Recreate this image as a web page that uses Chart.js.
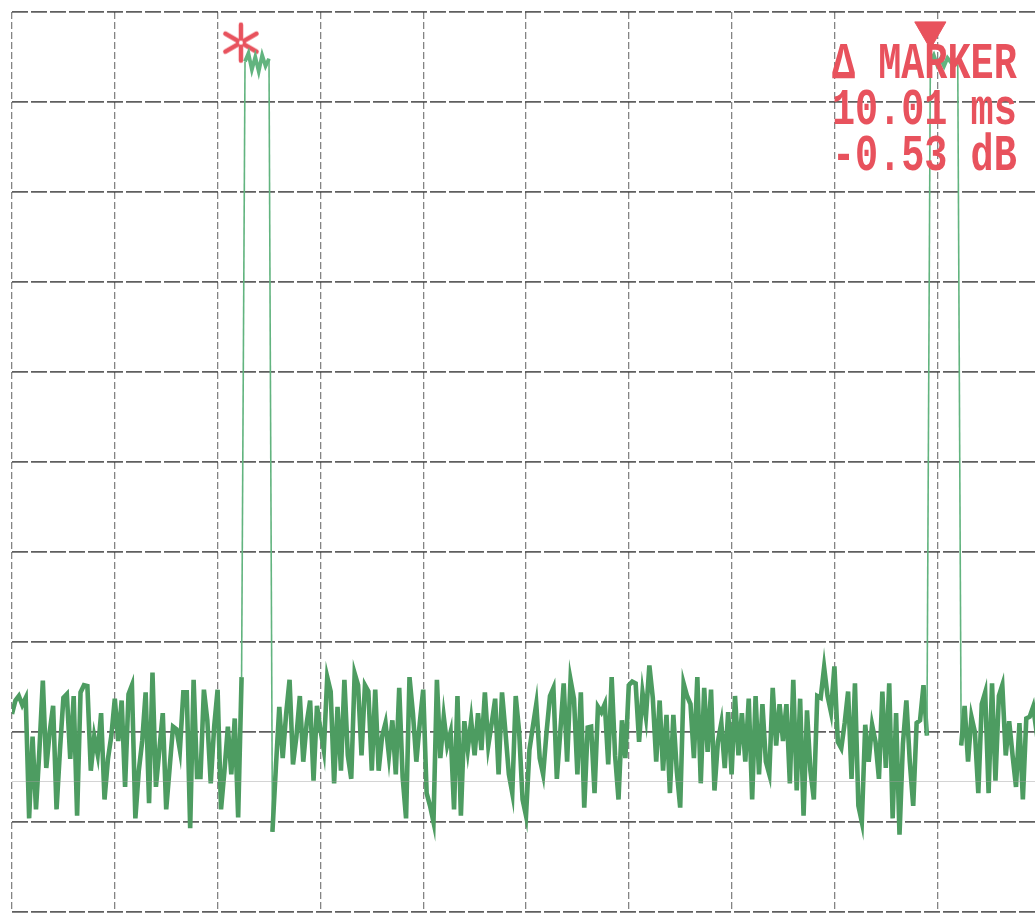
<!DOCTYPE html>
<html>
<head>
<meta charset="utf-8">
<script src="https://cdn.jsdelivr.net/npm/chart.js@4.4.1/dist/chart.umd.min.js"></script>
<style>
  html, body { margin: 0; padding: 0; background: #fff; overflow: hidden; }
  .wrap { position: relative; width: 1045px; height: 914px; }
  .readout {
    position: absolute; left: 832px; top: 42px;
    font-family: "Liberation Mono", "DejaVu Sans Mono", monospace;
    font-size: 52px; line-height: 46px; font-weight: bold;
    color: #e8525d; white-space: pre;
    transform: scaleX(0.74); transform-origin: left top;
  }
</style>
</head>
<body>
<div class="wrap">
  <canvas id="myChart"></canvas>
  <div class="readout">Δ MARKER
10.01 ms
-0.53 dB</div>
</div>
<script>
// sweep settings (ms, dB)
var spanMs = 15;
var refLevel = 0;
var bottomLevel = -100;

// trace, one value per sweep point (dB)
var levels = [
  -78.0, -76.5, -76.0, -77.0, -76.2, -89.6, -80.5, -88.6, -82.0, -74.3,
  -84.0, -80.0, -77.1, -88.6, -82.0, -76.2, -75.8, -83.0, -76.0, -89.3,
  -75.6, -74.8, -74.9, -84.3, -80.5, -82.5, -77.9, -87.5, -83.0, -80.4,
  -76.3, -81.0, -76.5, -86.1, -75.8, -74.8, -89.6, -84.3, -81.0, -75.6,
  -87.9, -73.4, -86.1, -82.0, -77.9, -88.6, -84.0, -79.4, -79.7, -82.0,
  -75.6, -75.6, -90.7, -74.2, -85.0, -85.0, -75.3, -78.7, -85.7, -79.4,
  -75.3, -88.6, -84.3, -79.4, -84.7, -78.5, -89.5, -73.9, -5.5, -4.6,
  -6.4, -5.0, -6.6, -4.8, -6.0, -5.2, -91.1, -84.0, -77.2, -82.9,
  -78.0, -74.2, -83.6, -80.5, -76.0, -83.3, -79.0, -76.5, -85.4, -77.1,
  -79.7, -82.0, -73.9, -75.5, -85.7, -77.2, -84.3, -74.2, -82.6, -85.2,
  -73.5, -74.8, -82.6, -74.8, -75.5, -84.3, -75.3, -84.3, -80.5, -79.0,
  -82.6, -78.7, -84.7, -75.1, -85.0, -89.6, -73.9, -77.9, -83.3, -79.0,
  -75.3, -86.8, -88.2, -90.0, -74.2, -82.9, -78.3, -81.5, -80.0, -88.6,
  -76.0, -89.3, -78.8, -82.0, -78.7, -82.6, -77.9, -82.0, -75.6, -81.5,
  -79.0, -76.3, -84.7, -75.6, -80.0, -84.7, -86.8, -76.0, -80.0, -87.5,
  -89.3, -82.0, -79.4, -76.9, -82.9, -84.7, -80.0, -76.0, -75.1, -85.2,
  -80.0, -74.6, -83.3, -74.2, -76.3, -84.7, -75.6, -88.4, -79.5, -79.4,
  -86.8, -77.2, -77.8, -76.9, -83.6, -73.9, -82.6, -87.5, -78.7, -82.9,
  -74.8, -74.4, -74.6, -81.1, -75.6, -78.3, -72.6, -76.2, -83.3, -76.5,
  -84.3, -78.1, -86.8, -78.1, -84.3, -88.4, -74.6, -76.0, -76.9, -82.9,
  -73.9, -85.7, -75.1, -82.2, -75.3, -86.5, -81.1, -79.0, -84.0, -77.8,
  -84.7, -76.0, -82.6, -77.9, -83.3, -76.3, -87.5, -76.0, -84.7, -76.9,
  -83.3, -84.7, -75.1, -81.5, -76.9, -81.0, -76.9, -85.7, -74.2, -86.5,
  -76.3, -89.3, -77.6, -84.3, -87.5, -76.0, -76.2, -72.8, -76.0, -77.8,
  -72.7, -81.1, -81.8, -79.0, -75.5, -85.2, -74.6, -88.2, -90.0, -79.2,
  -83.3, -79.2, -81.1, -85.2, -75.5, -84.0, -74.6, -89.6, -77.9, -91.4,
  -81.3, -76.5, -83.3, -88.2, -79.0, -78.7, -74.8, -80.4, -5.5, -4.8,
  -5.9, -5.2, -6.0, -5.1, -5.6, -5.3, -5.8, -81.5, -77.1, -83.3,
  -78.3, -80.0, -86.8, -76.9, -75.6, -86.8, -74.6, -85.4, -76.0, -74.8,
  -82.6, -78.8, -82.6, -86.1, -79.0, -87.5, -78.5, -78.3, -77.2, -80.0,
  -78.0
];

// markers: asterisk on first pulse, delta triangle on second
var markerTimes = [3.34, 13.40];
var markerLevels = [-3.4, -2.1];

// faint scanner streak across the paper
var streakLevel = -85.5;

var step = spanMs / (levels.length - 1);
var trace = levels.map(function (v, i) { return { x: i * step, y: v }; });
var markers = markerTimes.map(function (t, i) { return { x: t, y: markerLevels[i] }; });

var red = "#e8525d";
var green = "#4d9c61";
var paleGreen = "#62b47f";

// six-armed plotter asterisk used as point style
var star = document.createElement("canvas");
star.width = 44; star.height = 44;
var sc = star.getContext("2d");
sc.strokeStyle = red; sc.lineWidth = 4.5; sc.lineCap = "round";
for (var a = 0; a < 6; a++) {
    var ang = a * Math.PI / 3 + Math.PI / 2;
    sc.beginPath();
    sc.moveTo(22 + Math.cos(ang) * 4, 22 - Math.sin(ang) * 4);
    sc.lineTo(22 + Math.cos(ang) * 18, 22 - Math.sin(ang) * 18);
    sc.stroke();
}

function isHigh(c) { return c.p0.parsed.y > -60 || c.p1.parsed.y > -60; }

const ctx = document.getElementById("myChart").getContext("2d");

var myjson = {
    type: "line",
    data: {
        datasets: [{
            label: "streak",
            data: [{ x: 0, y: streakLevel }, { x: spanMs, y: streakLevel }],
            borderColor: "rgba(160,160,160,0.45)",
            borderWidth: 1,
            pointRadius: 0,
        }, {
            label: "trace",
            data: trace,
            borderColor: green,
            borderWidth: 4.6,
            pointRadius: 0,
            tension: 0,
            segment: {
                borderColor: function (c) { return isHigh(c) ? paleGreen : undefined; },
                borderWidth: function (c) {
                    if (c.p0.parsed.y > -60 && c.p1.parsed.y > -60) return 3.8;
                    return isHigh(c) ? 1.6 : undefined;
                },
            },
        }, {
            label: "markers",
            data: markers,
            showLine: false,
            pointStyle: [star, "triangle"],
            rotation: [0, 180],
            pointRadius: [17, 18],
            hoverRadius: 0,
            borderWidth: 1,
            pointBorderColor: red,
            pointBackgroundColor: red,
        }],
    },
    options: {
        responsive: true,
        maintainAspectRatio: false,
        animation: false,
        layout: { autoPadding: false, padding: { left: 12, top: 12, right: 5, bottom: 2 } },
        plugins: { legend: { display: false }, tooltip: { enabled: false } },
        scales: {
            x: {
                type: "linear",
                min: 0,
                max: spanMs,
                ticks: { display: false, stepSize: spanMs / 10 },
                grid: { color: "rgba(80,80,80,0.7)", lineWidth: 1.3, drawTicks: false },
                border: { display: false, dash: [7, 3] },
            },
            y: {
                min: bottomLevel,
                max: refLevel,
                ticks: { display: false, stepSize: 10 },
                grid: { color: "rgba(55,55,55,0.8)", lineWidth: 1.8, drawTicks: false },
                border: { display: false, dash: [16, 3] },
            },
        },
    },
};

const myChart = new Chart(ctx, myjson);
</script>
</body>
</html>
